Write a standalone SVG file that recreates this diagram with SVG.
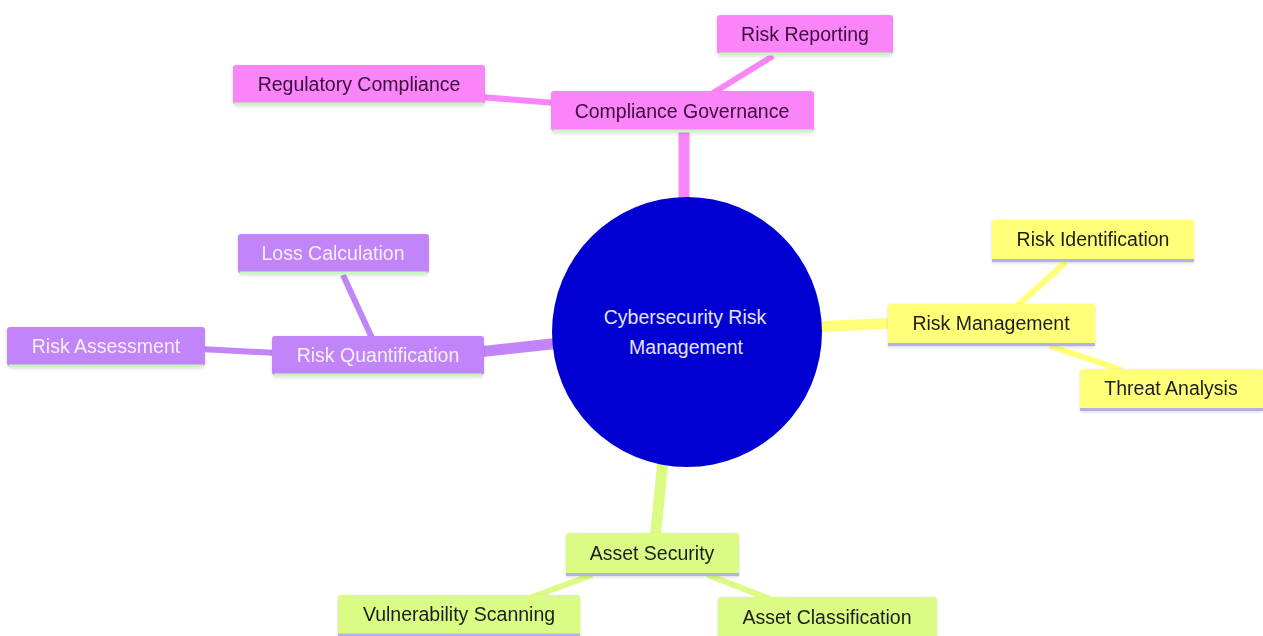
<svg xmlns="http://www.w3.org/2000/svg" width="1263" height="636" viewBox="0 0 1263 636">
<style>
text{font-family:"Liberation Sans",Arial,sans-serif;font-size:19.5px;text-anchor:middle;dominant-baseline:central}
.e1{stroke-width:11;stroke-linecap:butt;fill:none}
.e2{stroke-width:6;stroke-linecap:butt;fill:none}
.pk{fill:#f985f9}.pks{stroke:#f985f9}
.pu{fill:#c185f9}.pus{stroke:#c185f9}
.ye{fill:#ffff78}.yes{stroke:#ffff78}
.gr{fill:#dafc85}.grs{stroke:#dafc85}
.lg{stroke:#c8f5c0;stroke-width:3}
.lv{stroke:#b4b0e8;stroke-width:3}
.tpk{fill:#3d0a3d}.tpu{fill:#f4f0fa}.tdk{fill:#1e1e1e}
</style>
<defs>
<filter id="sh" x="-10%" y="-20%" width="120%" height="150%">
<feDropShadow dx="0" dy="1" stdDeviation="1.5" flood-color="#000" flood-opacity="0.15"/>
</filter>
</defs>
<rect width="1263" height="636" fill="#ffffff"/>
<g id="connectors">
<line class="e1 pks" x1="684" y1="205" x2="684" y2="125"/>
<line class="e1 pus" x1="560" y1="343" x2="478" y2="352"/>
<line class="e1 yes" x1="815" y1="327" x2="895" y2="323"/>
<line class="e1 grs" x1="663" y1="460" x2="655" y2="540"/>
<line class="e2 pks" x1="713" y1="93" x2="773" y2="56"/>
<line class="e2 pks" x1="556" y1="103" x2="480" y2="97"/>
<line class="e2 pus" x1="372" y1="338" x2="343" y2="275"/>
<line class="e2 pus" x1="276" y1="353" x2="200" y2="349"/>
<line class="e2 yes" x1="1017" y1="306" x2="1066" y2="262"/>
<line class="e2 yes" x1="1050" y1="346" x2="1122" y2="370"/>
<line class="e2 grs" x1="592" y1="575" x2="532" y2="597"/>
<line class="e2 grs" x1="708" y1="575" x2="770" y2="599"/>
</g>
<g id="root">
<circle cx="687" cy="332" r="135" fill="#0000d2"/>
<text x="685" y="317" fill="#e4e4f2">Cybersecurity Risk</text>
<text x="686" y="347" fill="#e4e4f2">Management</text>
</g>
<g id="compliance-governance" filter="url(#sh)">
<rect class="pk" x="551" y="91" width="263" height="40" rx="3"/>
<line class="lg" x1="553" y1="131" x2="812" y2="131"/>
<text class="tpk" x="682" y="111">Compliance Governance</text>
</g>
<g id="risk-reporting" filter="url(#sh)">
<rect class="pk" x="717" y="15" width="176" height="39" rx="3"/>
<line class="lg" x1="719" y1="54" x2="891" y2="54"/>
<text class="tpk" x="805" y="34">Risk Reporting</text>
</g>
<g id="regulatory-compliance" filter="url(#sh)">
<rect class="pk" x="233" y="65" width="252" height="39" rx="3"/>
<line class="lg" x1="235" y1="104" x2="483" y2="104"/>
<text class="tpk" x="359" y="84">Regulatory Compliance</text>
</g>
<g id="risk-quantification" filter="url(#sh)">
<rect class="pu" x="272" y="336" width="212" height="39" rx="3"/>
<line class="lg" x1="274" y1="375" x2="482" y2="375"/>
<text class="tpu" x="378" y="355">Risk Quantification</text>
</g>
<g id="loss-calculation" filter="url(#sh)">
<rect class="pu" x="238" y="234" width="191" height="39" rx="3"/>
<line class="lg" x1="240" y1="273" x2="427" y2="273"/>
<text class="tpu" x="333" y="253">Loss Calculation</text>
</g>
<g id="risk-assessment" filter="url(#sh)">
<rect class="pu" x="7" y="327" width="198" height="39" rx="3"/>
<line class="lg" x1="9" y1="366" x2="203" y2="366"/>
<text class="tpu" x="106" y="346">Risk Assessment</text>
</g>
<g id="risk-management" filter="url(#sh)">
<rect class="ye" x="888" y="304" width="207" height="41" rx="3"/>
<line class="lv" x1="888" y1="344.5" x2="1095" y2="344.5"/>
<text class="tdk" x="991" y="323">Risk Management</text>
</g>
<g id="risk-identification" filter="url(#sh)">
<rect class="ye" x="992" y="220" width="202" height="41" rx="3"/>
<line class="lv" x1="992" y1="260.5" x2="1194" y2="260.5"/>
<text class="tdk" x="1093" y="239">Risk Identification</text>
</g>
<g id="threat-analysis" filter="url(#sh)">
<rect class="ye" x="1080" y="369" width="183" height="41" rx="3"/>
<line class="lv" x1="1080" y1="409.5" x2="1263" y2="409.5"/>
<text class="tdk" x="1171" y="388">Threat Analysis</text>
</g>
<g id="asset-security" filter="url(#sh)">
<rect class="gr" x="566" y="533" width="173" height="42" rx="3"/>
<line class="lv" x1="566" y1="574.5" x2="739" y2="574.5"/>
<text class="tdk" x="652" y="553">Asset Security</text>
</g>
<g id="vulnerability-scanning" filter="url(#sh)">
<rect class="gr" x="338" y="595" width="242" height="41" rx="3"/>
<line class="lv" x1="338" y1="635" x2="580" y2="635"/>
<text class="tdk" x="459" y="614">Vulnerability Scanning</text>
</g>
<g id="asset-classification" filter="url(#sh)">
<rect class="gr" x="718" y="597" width="219" height="41" rx="3"/>
<text class="tdk" x="827" y="617">Asset Classification</text>
</g>
</svg>
